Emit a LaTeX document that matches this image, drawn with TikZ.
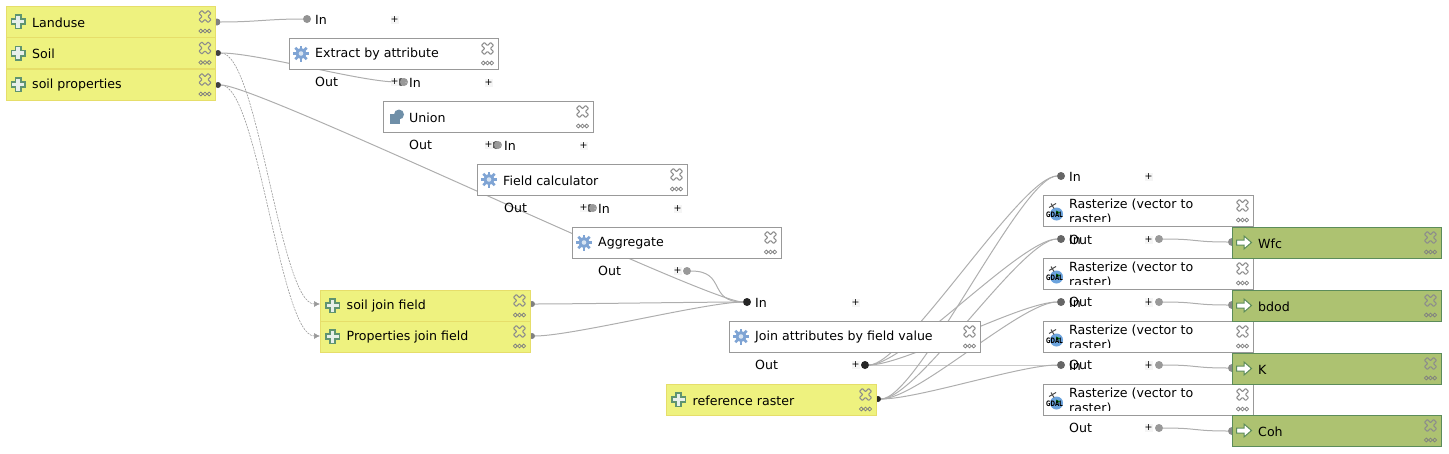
\documentclass[tikz,border=0pt]{standalone}
\usepackage{fontspec}
\usetikzlibrary{arrows.meta}
\setmainfont{DejaVu Sans}
\definecolor{inyellow}{HTML}{EEF27F}
\definecolor{inedge}{HTML}{E6DE6A}
\definecolor{outgreen}{HTML}{ADC271}
\definecolor{outedge}{HTML}{5C8C5A}
\definecolor{algedge}{HTML}{999999}
\definecolor{linegray}{HTML}{AEAEAE}
\definecolor{gearblue}{HTML}{7FA4D4}
\definecolor{plusgreen}{HTML}{5F9470}
\definecolor{unionblue}{HTML}{6F8FA8}
\tikzset{
    inbox/.style={draw=inedge,fill=inyellow,minimum width=209.5pt,minimum height=31pt,anchor=north west,outer sep=0pt},
    algbox/.style={draw=algedge,fill=white,minimum height=31pt,anchor=north west,outer sep=0pt},
    outbox/.style={draw=outedge,fill=outgreen,minimum width=209pt,minimum height=31pt,anchor=north west,outer sep=0pt},
    boxtext/.style={anchor=west,inner sep=0pt,font=\fontsize{12.6}{15}\selectfont},
    portname/.style={anchor=west,inner sep=0pt,yshift=-1pt,font=\fontsize{12.6}{15}\selectfont},
    addbtn/.style={fill=white!96!black,inner sep=0pt,minimum size=8pt,font=\fontsize{9.5}{9.5}\selectfont},
    port/.style={circle,inner sep=0pt,minimum size=#1,outer sep=0pt},
    conn/.style={draw=linegray,line width=1pt},
    dashconn/.style={draw=algedge,line width=.6pt,dash pattern=on 2pt off 1pt,-{Latex[length=6pt,width=6pt]}},
    closex/.pic={
        \draw[gray!90,line width=1pt,rotate=45,rounded corners=.6pt] (-2,-6.5) -- (2,-6.5) -- (2,-2) -- (6.5,-2) -- (6.5,2) -- (2,2) -- (2,6.5) -- (-2,6.5) -- (-2,2) -- (-6.5,2) -- (-6.5,-2) -- (-2,-2) -- cycle;
    },
    moredots/.pic={
        \foreach \d in {-4.2,0,4.2}
            \draw[gray,line width=.8pt] (\d,0) circle (1.9);
    },
    addicon/.pic={
        \fill[plusgreen] (-7.5,-3.5) rectangle (7.5,3.5);
        \fill[plusgreen] (-3.5,-7.5) rectangle (3.5,7.5);
        \fill[white!85!plusgreen] (-6,-1.7) rectangle (6,1.7);
        \fill[white!85!plusgreen] (-1.7,-6) rectangle (1.7,6);
    },
    arrowicon/.pic={
        \draw[outedge,fill=white,line width=1pt] (-7.5,-2.5) -- (0,-2.5) -- (0,-6.5) -- (7.5,0) -- (0,6.5) -- (0,2.5) -- (-7.5,2.5) -- cycle;
    },
    gearicon/.pic={
        \foreach \a in {0,45,...,315}
            \draw[gearblue,line width=2.6pt] (0,0) -- (\a:8);
        \fill[gearblue] (0,0) circle (5.6);
        \fill[white!70!gearblue] (0,0) circle (2.3);
    },
    unionicon/.pic={
        \fill[unionblue] (-5,-3) rectangle (5,7);
        \fill[unionblue] (4,-2) circle (5);
    },
    gdalicon/.pic={
        \fill[cyan!60!blue!60] (1.5,3.5) circle (6.5);
        \fill[green!50!black] (1,0) -- (5,2) -- (1,4) -- cycle;
        \draw[black!70,line width=1pt] (-6,-3) -- (1,-7);
        \draw[black!70,line width=1pt] (-4,-7) -- (-1,-2);
        \node[inner sep=0pt,xscale=.72,font=\fontsize{7.5}{8}\selectfont\bfseries] at (-.5,4.5) {GDAL};
    }
}
\begin{document}
\begin{tikzpicture}[x=1pt,y=-1pt]
    \useasboundingbox (0,0) rectangle (1449,453);
    \foreach \n/\x/\y/\c/\s in{
    lu/217/22/gray/7pt, so/218/53/black!75/6pt, sp/218/85/black!75/6pt,
    sj/532/304/gray/6pt, pj/532/336/gray/6pt, rr/878/399/black!85/6pt,
    i1/307/19/gray!85/8pt, i2/401/82/black!65/8pt, i3/496/145/black!65/8pt, i4/590/208/black!65/8pt,
    i5/747/302/black!85/8pt,
    r1/1061/176/black!60/8pt, r2/1061/239/black!60/8pt, r3/1061/302/black!60/8pt, r4/1061/365/black!60/8pt,
    o2/404/82/gray!80/8pt, o3/498/145/gray!80/8pt, o4/593/208/gray!80/8pt, o5/687/271/gray!80/8pt,
    jo/865/365/black!85/8pt,
    w1/1159/239/gray!80/8pt, w2/1159/302/gray!80/8pt, w3/1159/365/gray!80/8pt, w4/1159/428/gray!80/8pt,
    g1/1232/242/gray!90/8pt, g2/1232/305/gray!90/8pt, g3/1232/368/gray!90/8pt, g4/1232/431/gray!90/8pt
    }
    {
        \node[port=\s,fill=\c] (\n) at (\x,\y) {};
    }
    \coordinate (sjin) at (320,304);
    \coordinate (pjin) at (320,336);
    \draw[dashconn] (so) .. controls +(40,0) and +(-40,0) .. (sjin);
    \draw[dashconn] (sp) .. controls +(40,0) and +(-40,0) .. (pjin);
    \foreach \a/\b in{lu/i1, so/i2, sp/i5, o5/i5, sj/i5, pj/i5,
    jo/r1, jo/r2, jo/r3, jo/r4, rr/r1, rr/r2, rr/r3, rr/r4,
    w1/g1, w2/g2, w3/g3, w4/g4}
    {
        \draw[conn] (\a) .. controls +(40,0) and +(-40,0) .. (\b);
    }
    \foreach \a/\b in{o2/i2, o3/i3, o4/i4}
    {
        \draw[conn] (\a) -- (\b);
    }
    \foreach \n/\x/\y/\l in{
    landuse/6/6/Landuse,
    soil/6/37.5/Soil,
    props/6/69/soil properties,
    soiljoin/320.5/290/soil join field,
    propjoin/320.5/321/Properties join field,
    refraster/666.5/384/reference raster
    }
    {
        \node[inbox] (\n) at (\x,\y) {};
        \pic at ([xshift=12pt]\n.west) {addicon};
        \node[boxtext,yshift=-1pt] (\n text) at ([xshift=26pt]\n.west) {\l};
        \pic at ([shift={(-10.5,-5)}]\n.east) {closex};
        \pic at ([shift={(-10.5,9.5)}]\n.east) {moredots};
    }
    \foreach \n/\x/\y/\w/\i/\l in{
    extract/289/38/209/gearicon/Extract by attribute,
    union/383/101/210/unionicon/Union,
    fieldcalc/477/164/210/gearicon/Field calculator,
    aggregate/572/227/209/gearicon/Aggregate,
    joinattr/729/321/251/gearicon/Join attributes by field value
    }
    {
        \node[algbox,minimum width=\w pt] (\n) at (\x,\y) {};
        \pic at ([xshift=12pt]\n.west) {\i};
        \node[boxtext,yshift=-1pt] (\n text) at ([xshift=26pt]\n.west) {\l};
        \pic at ([shift={(-10.5,-5)}]\n.east) {closex};
        \pic at ([shift={(-10.5,9.5)}]\n.east) {moredots};
    }
    \foreach \n/\y in{rast1/195, rast2/258, rast3/321, rast4/384}
    {
        \node[algbox,minimum width=210pt] (\n) at (1043,\y) {};
        \pic at ([xshift=12pt]\n.west) {gdalicon};
        \begin{scope}
            \clip ([shift={(20,-15)}]\n.west) rectangle ([shift={(170,10.5)}]\n.west);
            \node[boxtext,align=left] (\n text) at ([xshift=26pt,yshift=-2pt]\n.west) {Rasterize (vector to\\raster)};
        \end{scope}
        \pic at ([shift={(-10.5,-5)}]\n.east) {closex};
        \pic at ([shift={(-10.5,9.5)}]\n.east) {moredots};
    }
    \foreach \n/\y/\l in{
    wfc/227/Wfc,
    bdod/290/bdod,
    kout/353/K,
    coh/415/Coh
    }
    {
        \node[outbox] (\n) at (1232,\y) {};
        \pic at ([xshift=12pt]\n.west) {arrowicon};
        \node[boxtext,yshift=-1pt] (\n text) at ([xshift=26pt]\n.west) {\l};
        \pic at ([shift={(-10.5,-5)}]\n.east) {closex};
        \pic at ([shift={(-10.5,9.5)}]\n.east) {moredots};
    }
    \foreach \n/\x/\y/\l/\p in{
    a1/315/19/In/394.5,
    a2/315/81/Out/394.5,
    a3/409/82/In/488.5,
    a4/409/144/Out/488.5,
    a5/504/145/In/583.5,
    a6/504/207/Out/583.5,
    a7/598/208/In/677.5,
    a8/598/270/Out/677.5,
    a9/755/302/In/855.5,
    a10/755/364/Out/855.5,
    a11/1069/176/In/1148.5,
    a12/1069/239/Out/1148.5,
    a13/1069/239/In/1148.5,
    a14/1069/301/Out/1148.5,
    a15/1069/302/In/1148.5,
    a16/1069/364/Out/1148.5,
    a17/1069/365/In/1148.5,
    a18/1069/427/Out/1148.5
    }
    {
        \node[portname] (\n) at (\x,\y) {\l};
        \node[addbtn] (\n btn) at (\p,\y+1) {+};
    }
\end{tikzpicture}
\end{document}
